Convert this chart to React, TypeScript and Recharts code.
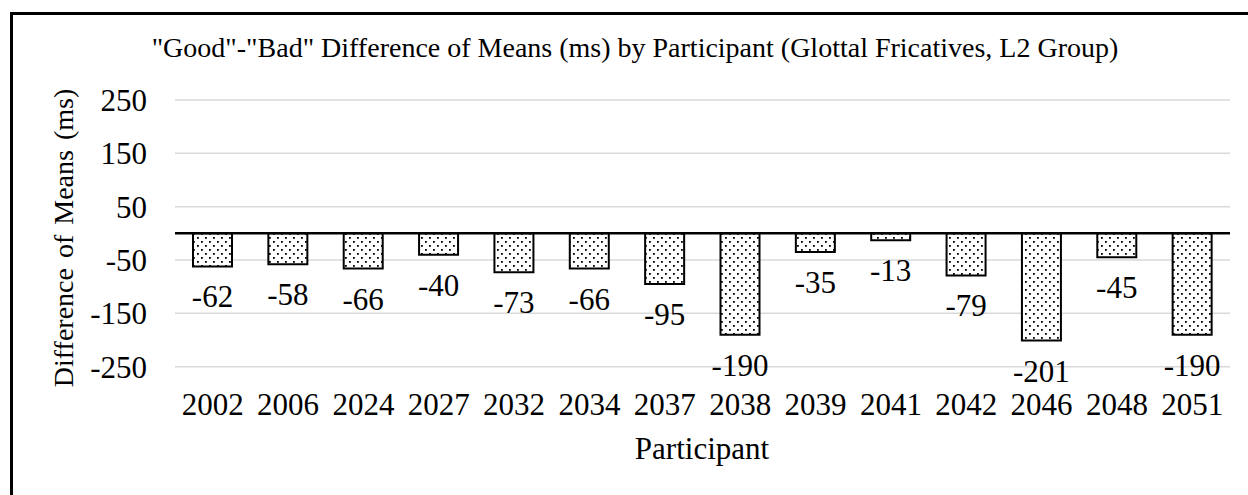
import React from 'react';
import {
  BarChart,
  Bar,
  XAxis,
  YAxis,
  CartesianGrid,
  ReferenceLine,
  LabelList,
} from 'recharts';

const participants = [
  '2002', '2006', '2024', '2027', '2032', '2034', '2037',
  '2038', '2039', '2041', '2042', '2046', '2048', '2051',
];
const differences = [-62, -58, -66, -40, -73, -66, -95, -190, -35, -13, -79, -201, -45, -190];
const yTicks = [-250, -150, -50, 50, 150, 250];

const FONT = "'Liberation Serif', 'Times New Roman', serif";

if (typeof document !== 'undefined') {
  document.body.style.margin = '0';
  document.body.style.overflow = 'hidden';
}

// value label below the end of each (negative) bar
const renderLabel = (props: any) => {
  const { x, y, width, height, value } = props;
  const bottom = Math.max(Number(y), Number(y) + Number(height));
  return (
    <text
      x={Number(x) + Number(width) / 2}
      y={bottom + 41}
      textAnchor="middle"
      fontSize={31}
      fontFamily={FONT}
      fill="#000"
    >
      {value}
    </text>
  );
};

export default function App() {
  const data = participants.map((p, i) => ({ participant: p, diff: differences[i] }));

  return (
    <div
      style={{
        position: 'fixed',
        left: 0,
        top: 0,
        width: 1248,
        height: 495,
        overflow: 'hidden',
        background: '#fff',
        fontFamily: FONT,
      }}
    >
      <div
        style={{
          position: 'absolute',
          left: 10,
          top: 12,
          width: 1260,
          height: 520,
          border: '3px solid #000',
          boxSizing: 'border-box',
        }}
      />
      <div
        style={{
          position: 'absolute',
          left: 0,
          width: 1270,
          top: 32,
          textAlign: 'center',
          fontSize: 28,
          lineHeight: '32px',
          whiteSpace: 'nowrap',
          color: '#000',
        }}
      >
        "Good"-"Bad" Difference of Means (ms) by Participant (Glottal Fricatives, L2 Group)
      </div>
      <div
        style={{
          position: 'absolute',
          left: 64 - 200,
          top: 238 - 17,
          width: 400,
          height: 34,
          lineHeight: '34px',
          textAlign: 'center',
          fontSize: 28,
          wordSpacing: 3,
          whiteSpace: 'nowrap',
          color: '#000',
          transform: 'rotate(-90deg)',
        }}
      >
        Difference of Means (ms)
      </div>
      <div
        style={{
          position: 'absolute',
          left: 702 - 100,
          width: 200,
          top: 432,
          textAlign: 'center',
          fontSize: 31,
          lineHeight: '34px',
          color: '#000',
        }}
      >
        Participant
      </div>
      <div style={{ position: 'absolute', left: 0, top: 0 }}>
        <BarChart
          width={1248}
          height={495}
          data={data}
          margin={{ top: 100, right: 18, left: 0, bottom: 0 }}
        >
          <defs>
            <pattern id="dots" width="8" height="8" patternUnits="userSpaceOnUse">
              <rect width="8" height="8" fill="#fff" />
              <rect x="1" y="1" width="1.8" height="1.8" fill="#000" />
              <rect x="5" y="5" width="1.8" height="1.8" fill="#000" />
            </pattern>
          </defs>
          <CartesianGrid vertical={false} stroke="#d9d9d9" strokeWidth={1.5} />
          <XAxis
            dataKey="participant"
            axisLine={false}
            tickLine={false}
            tickSize={0}
            tickMargin={26}
            height={128.33}
            interval={0}
            tick={{ fontSize: 31, fill: '#000', fontFamily: FONT }}
          />
          <YAxis
            type="number"
            domain={[-250, 250]}
            ticks={yTicks}
            axisLine={false}
            tickLine={false}
            tickSize={0}
            tickMargin={28}
            width={175}
            tick={{ fontSize: 31, fill: '#000', fontFamily: FONT }}
          />
          <Bar
            dataKey="diff"
            fill="url(#dots)"
            stroke="#000"
            strokeWidth={2}
            barSize={39}
            isAnimationActive={false}
          >
            <LabelList dataKey="diff" content={renderLabel} />
          </Bar>
          <ReferenceLine y={0} stroke="#000" strokeWidth={2.5} />
        </BarChart>
      </div>
    </div>
  );
}
